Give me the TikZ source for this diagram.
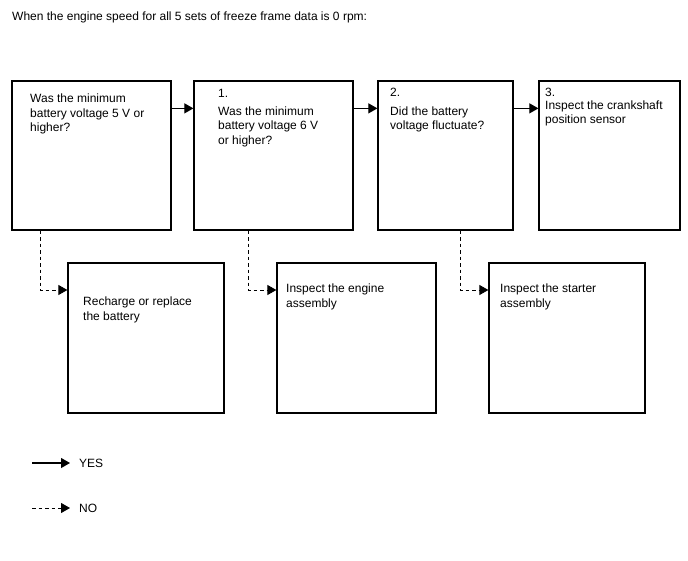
\documentclass[tikz,border=0pt]{standalone}
\usepackage{fontspec}
\setmainfont{Liberation Sans}
\usetikzlibrary{arrows.meta}
\begin{document}
\begin{tikzpicture}[x=1pt,y=-1pt,
  box/.style={draw,line width=1.25pt,inner sep=0pt},
  txt/.style={anchor=north west,inner sep=0pt,align=left,font=\fontsize{12}{14.3}\selectfont},
  yes/.style={line width=1.1pt,-{Triangle[length=9pt,width=10pt]}},
  no/.style={line width=0.9pt,dash pattern=on 3.5pt off 3pt,-{Triangle[length=9pt,width=10pt]}}]
\useasboundingbox (0,0) rectangle (688,560);
\node[txt] (title) at (12,12) {When the engine speed for all 5 sets of freeze frame data is 0 rpm:};
% top row
\node[box,minimum width=159pt,minimum height=149pt] (b1) at (91.5,155.5) {};
\node[box,minimum width=159pt,minimum height=149pt] (b2) at (273.5,155.5) {};
\node[box,minimum width=135pt,minimum height=149pt] (b3) at (445.5,155.5) {};
\node[box,minimum width=141pt,minimum height=149pt] (b4) at (609.5,155.5) {};
% bottom row
\node[box,minimum width=156pt,minimum height=150pt] (bA) at (146,338) {};
\node[box,minimum width=159pt,minimum height=150pt] (bB) at (356.5,338) {};
\node[box,minimum width=156pt,minimum height=150pt] (bC) at (567,338) {};
% texts
\node[txt] (t1) at (30,94) {Was the minimum\\battery voltage 5 V or\\higher?};
\node[txt] (t2) at (218,89) {1.\\[3.7pt]Was the minimum\\battery voltage 6 V\\or higher?};
\node[txt] (t3) at (390,88) {2.\\[4.7pt]Did the battery\\voltage fluctuate?};
\node[txt] (t4) at (545,88) {3.\\[-1.3pt]Inspect the crankshaft\\position sensor};
\node[txt] (tA) at (83,297) {Recharge or replace\\the battery};
\node[txt] (tB) at (286,284) {Inspect the engine\\assembly};
\node[txt] (tC) at (500,284) {Inspect the starter\\assembly};
% yes connectors
\draw[yes] ([yshift=-28pt]b1.north east) -- ([yshift=-28pt]b2.north west);
\draw[yes] ([yshift=-28pt]b2.north east) -- ([yshift=-28pt]b3.north west);
\draw[yes] ([yshift=-28pt]b3.north east) -- ([yshift=-28pt]b4.north west);
% no connectors
\draw[no] ([xshift=-51.5pt]b1.south) |- ([yshift=48pt]bA.west);
\draw[no] ([xshift=-25.5pt]b2.south) |- ([yshift=48pt]bB.west);
\draw[no] ([xshift=14.5pt]b3.south) |- ([yshift=48pt]bC.west);
% legend
\coordinate (ly1) at (32,463);
\coordinate (ly2) at (70,463);
\coordinate (ln1) at (32,508);
\coordinate (ln2) at (70,508);
\draw[yes] (ly1) -- (ly2);
\draw[no] (ln1) -- (ln2);
\node[anchor=west,inner sep=0pt,font=\fontsize{12}{14.3}\selectfont] (lyes) at (79,463) {YES};
\node[anchor=west,inner sep=0pt,font=\fontsize{12}{14.3}\selectfont] (lno) at (79,508) {NO};
\end{tikzpicture}
\end{document}
